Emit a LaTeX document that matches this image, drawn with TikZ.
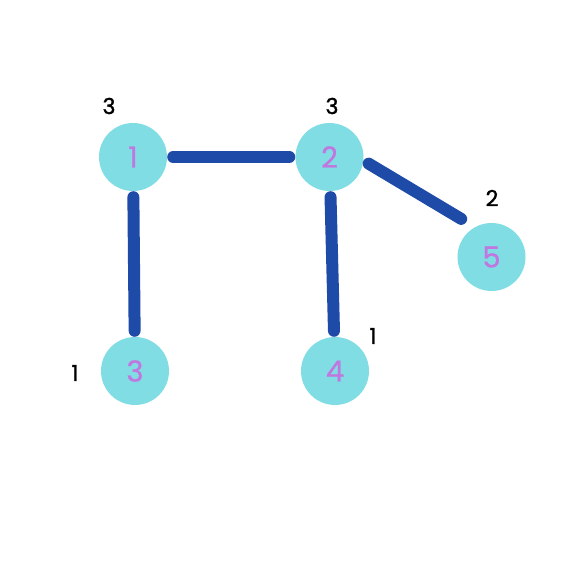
\documentclass[tikz,border=0pt]{standalone}
\usepackage{fontspec}
\setmainfont{Poppins}
\newfontfamily\degreefont{Poppins}[FakeBold=1.4]
\newfontfamily\vertexfont{Poppins}[FakeBold=0.8]
\definecolor{nodecyan}{RGB}{128,221,228}
\definecolor{edgeblue}{RGB}{30,74,168}
\definecolor{digitpurple}{RGB}{192,120,224}

\begin{document}
\begin{tikzpicture}[x=1pt, y=-1pt,
    vertex/.style={circle, fill=nodecyan, minimum size=68pt, inner sep=0pt, text=digitpurple, font=\vertexfont\fontsize{29}{29}\selectfont},
    degree/.style={font=\degreefont\fontsize{22}{22}\selectfont},
    link/.style={edgeblue, line width=12pt, line cap=round, shorten <=6pt, shorten >=6pt}]
                    \useasboundingbox (0,0) rectangle (569,569);
                    \node[vertex] (n1) at (133,157) {1};
                    \node[vertex] (n2) at (329.5,157) {2};
                    \node[vertex] (n3) at (135,371) {3};
                    \node[vertex] (n4) at (335,371) {4};
                    \node[vertex] (n5) at (491.5,257) {5};
                    \node[degree] (d1) at (109,106) {3};
                    \node[degree] (d2) at (332,106) {3};
                    \node[degree] (d3) at (75,373) {1};
                    \node[degree] (d4) at (373,336) {1};
                    \node[degree] (d5) at (492,198) {2};
                    \draw[link] (n1) -- (n2);
                    \draw[link] (n1) -- (n3);
                    \draw[link] (n2) -- (n4);
                    \draw[link, shorten >=16pt] (n2.-6) -- (n5.119);
                \end{tikzpicture}
\end{document}
